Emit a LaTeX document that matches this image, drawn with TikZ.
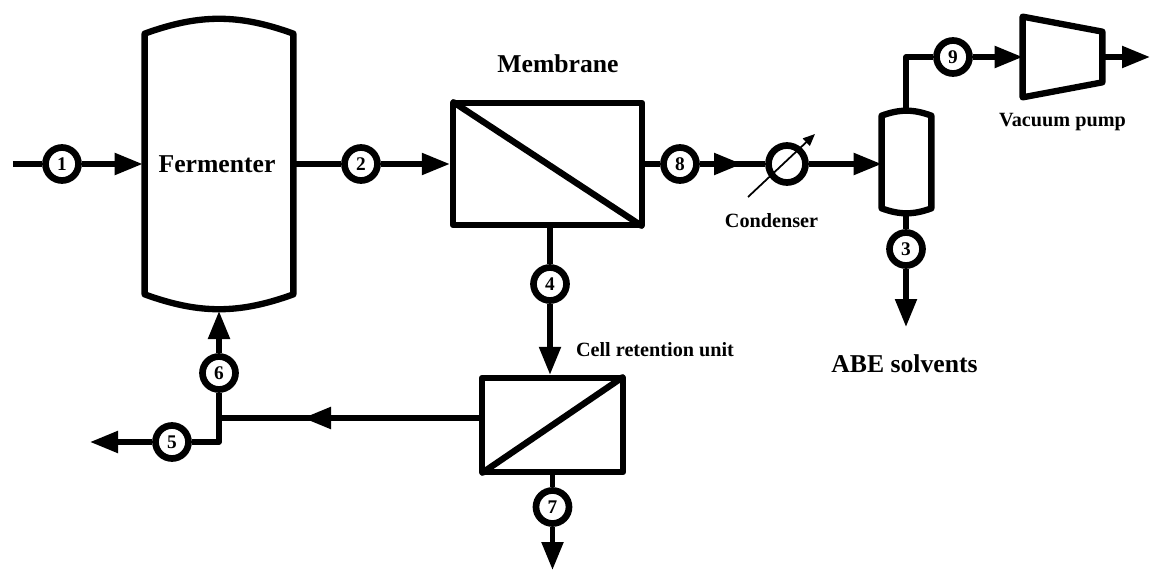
\documentclass[tikz,border=0pt]{standalone}
\usepackage{fontspec}
\setmainfont{Liberation Serif}
\usetikzlibrary{arrows.meta, calc}

\begin{document}
\begin{tikzpicture}[
  flow/.style={line width=3pt, -{Triangle[length=5.6mm,width=4.2mm]}},
  pipe/.style={line width=3pt},
  wall/.style={line width=3.6pt, line join=round, line cap=round},
  diag/.style={wall, shorten >=2.5pt, shorten <=2.5pt},
  box/.style={draw, line width=3.6pt, line join=round, inner sep=0pt},
  bubble/.style={circle, draw, fill=white, line width=3.8pt, minimum size=6.6mm, inner sep=0pt, font=\fontsize{11}{13}\selectfont\bfseries},
  vessel/.style={minimum width=#1, inner sep=0pt},
  biglabel/.style={font=\fontsize{14.6}{18}\selectfont\bfseries},
  smalllabel/.style={font=\fontsize{11.5}{14}\selectfont\bfseries}
]
\useasboundingbox (0,0) rectangle (23.08,11.42);

% Fermenter
\node[vessel=2.96cm, minimum height=5.2cm, biglabel] (fermenter) at (4.34,8.14) {Fermenter};
\draw[wall] ($(fermenter.north west)+(0.04,0)$) to[bend left=20] ($(fermenter.north east)+(0.04,0)$) -- ($(fermenter.south east)+(0.04,0)$) to[bend left=20] ($(fermenter.south west)+(0.04,0)$) -- cycle;

% Membrane
\node[box, minimum width=3.78cm, minimum height=2.44cm] (membrane) at (10.95,8.14) {};
\draw[diag] (membrane.north west) -- (membrane.south east);
\node[biglabel] (membranelabel) at (11.16,10.14) {Membrane};

% Cell retention unit
\node[box, minimum width=2.82cm, minimum height=1.88cm] (unit) at (11.05,2.92) {};
\draw[diag] (unit.south west) -- (unit.north east);
\node[smalllabel] (unitlabel) at (13.1,4.42) {Cell retention unit};

% Condenser
\node[circle, draw, line width=3.8pt, minimum size=7.4mm, inner sep=0pt] (condenser) at (15.74,8.14) {};
\coordinate (condin) at (14.96,7.48);
\coordinate (condout) at (16.3,8.74);
\draw[line width=1pt, -{Triangle[length=2.4mm,width=2mm]}] (condin) -- (condout);
\node[smalllabel] (condenserlabel) at (15.43,7.0) {Condenser};

% Separator
\node[vessel=0.98cm, minimum height=1.84cm] (separator) at (18.13,8.18) {};
\draw[wall] (separator.north west) to[bend left=20] (separator.north east) -- (separator.south east) to[bend left=20] (separator.south west) -- cycle;
\coordinate (septop) at (18.12,9.18);
\coordinate (sepbot) at (18.12,7.18);

% Vacuum pump
\node[vessel=1.58cm, minimum height=1.6cm] (pump) at (21.25,10.28) {};
\draw[wall] (pump.north west) -- ($(pump.north east)+(0,-0.3)$) -- ($(pump.south east)+(0,0.3)$) -- (pump.south west) -- cycle;
\node[smalllabel] (pumplabel) at (21.25,8.98) {Vacuum pump};

% Stream numbers
\node[bubble] (n1) at (1.24,8.14) {1};
\node[bubble] (n2) at (7.22,8.14) {2};
\node[bubble] (n3) at (18.12,6.44) {3};
\node[bubble] (n4) at (11.0,5.74) {4};
\node[bubble] (n5) at (3.44,2.58) {5};
\node[bubble] (n6) at (4.38,3.96) {6};
\node[bubble] (n7) at (11.05,1.28) {7};
\node[bubble] (n8) at (13.6,8.14) {8};
\node[bubble] (n9) at (19.06,10.28) {9};

% Free ends and bends
\coordinate (feed) at (0.26,8.14);
\coordinate (condtip) at (14.84,8.14);
\coordinate (septurn) at (18.12,10.28);
\coordinate (pumpout) at (23.0,10.28);
\coordinate (abeout) at (18.12,4.88);
\coordinate (bleedout) at (11.05,0.02);
\coordinate (junction) at (4.38,3.06);
\coordinate (backtip) at (6.06,3.06);
\coordinate (elbow) at (4.38,2.58);
\coordinate (purgeout) at (1.8,2.58);
\coordinate (fermbot) at (4.38,5.2);

% Streams
\draw[pipe] (feed) -- (n1);
\draw[flow] (n1) -- (fermenter.west);
\draw[pipe] (fermenter.east) -- (n2);
\draw[flow] (n2) -- (membrane.west);
\draw[pipe] (membrane.east) -- (n8);
\draw[pipe] (n8) -- (condenser);
\draw[flow] (n8) -- (condtip);
\draw[flow] (condenser.east) -- (condenser -| separator.west);
\draw[pipe, line join=round] (septop) -- (septurn) -- (n9);
\draw[flow] (n9) -- (pump.west);
\draw[flow] (pump.east) -- (pumpout);
\draw[pipe] (sepbot) -- (n3);
\draw[flow] (n3) -- (abeout);
\node[biglabel] (abelabel) at (18.09,4.14) {ABE solvents};
\draw[pipe] (n4 |- membrane.south) -- (n4);
\draw[flow] (n4) -- (n4 |- unit.north);
\draw[pipe] (unit.south) -- (n7);
\draw[flow] (n7) -- (bleedout);
\draw[pipe] (unit.west |- junction) -- (junction);
\draw[flow] (unit.west |- junction) -- (backtip);
\draw[pipe, line join=round] (n6) -- (elbow) -- (n5);
\draw[flow] (n5) -- (purgeout);
\draw[flow] (n6) -- (fermbot);
\end{tikzpicture}
\end{document}
